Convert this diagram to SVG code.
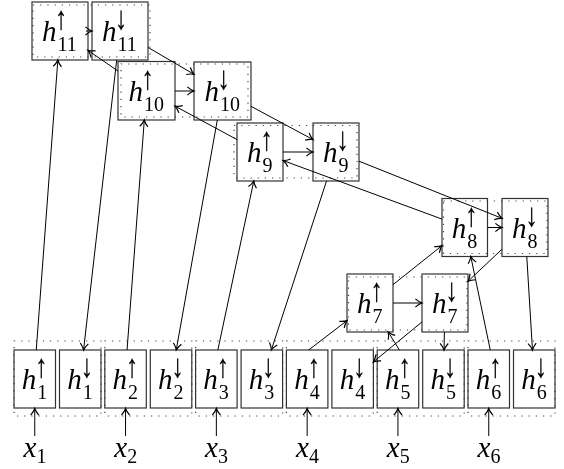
<svg xmlns="http://www.w3.org/2000/svg" width="564" height="469" viewBox="0 0 564 469">
<defs>
<style>
.box{fill:none;stroke:#333;stroke-width:1.2}
.dot{fill:none;stroke:#444;stroke-width:1.2;stroke-dasharray:1.2 6}
.e{fill:none;stroke:#000;stroke-width:1;marker-end:url(#arr)}
.lbl text{font-family:"Liberation Serif","Times New Roman",serif;fill:#000}
.lbl .m{font-style:italic;font-size:29px}
.lbl .s{font-size:20px}
.lbl .a{font-size:24px;text-anchor:middle;stroke:#000;stroke-width:0.25}
</style>
<filter id="flat" filterUnits="userSpaceOnUse" x="0" y="0" width="564" height="469">
<feOffset dx="0" dy="0"/>
</filter>
<marker id="arr" markerUnits="userSpaceOnUse" markerWidth="12" markerHeight="12" viewBox="-7 -5 9 10" refX="0" refY="0" orient="auto">
<path d="M-5.5,-3.4 C-3.5,-1.6 -1.5,-0.5 0,0 C-1.5,0.5 -3.5,1.6 -5.5,3.4" fill="none" stroke="#000" stroke-width="1"/>
</marker>
</defs>
<rect width="564" height="469" fill="#fff"/>

<g id="fits">
<rect class="dot" x="33" y="5" width="117" height="52"/>
<rect class="dot" x="121" y="64" width="127" height="53"/>
<rect class="dot" x="234" y="125.5" width="123" height="52.5"/>
<rect class="dot" x="443.5" y="201" width="103.5" height="52.5"/>
<rect class="dot" x="348.5" y="277" width="118.5" height="53"/>
<rect class="dot" x="14" y="341" width="87" height="75"/>
<rect class="dot" x="104.8" y="341" width="87" height="75"/>
<rect class="dot" x="195.6" y="341" width="87" height="75"/>
<rect class="dot" x="286.4" y="341" width="87" height="75"/>
<rect class="dot" x="377.2" y="341" width="87" height="75"/>
<rect class="dot" x="468" y="341" width="87" height="75"/>
</g>

<g class="lbl" filter="url(#flat)">
<g id="h11up"><rect class="box" x="32" y="2" width="56" height="58"/><text class="m" x="42" y="41">h</text><text class="s" x="57.5" y="51">11</text><text class="a" transform="translate(61,29) scale(1,1.35)">↑</text></g>
<g id="h11down"><rect class="box" x="92" y="2" width="56" height="58"/><text class="m" x="102" y="41">h</text><text class="s" x="117.5" y="51">11</text><text class="a" transform="translate(121,29) scale(1,1.35)">↓</text></g>
<g id="h10up"><rect class="box" x="118" y="61.5" width="57" height="58.5"/><text class="m" x="128.5" y="100.75">h</text><text class="s" x="144" y="110.75">10</text><text class="a" transform="translate(147.5,88.75) scale(1,1.35)">↑</text></g>
<g id="h10down"><rect class="box" x="194" y="62" width="57" height="58"/><text class="m" x="204.5" y="101">h</text><text class="s" x="220" y="111">10</text><text class="a" transform="translate(223.5,89) scale(1,1.35)">↓</text></g>
<g id="h9up"><rect class="box" x="237" y="123" width="46" height="58"/><text class="m" x="247" y="162">h</text><text class="s" x="262.5" y="172">9</text><text class="a" transform="translate(266.5,150) scale(1,1.35)">↑</text></g>
<g id="h9down"><rect class="box" x="313" y="123" width="46" height="58"/><text class="m" x="323" y="162">h</text><text class="s" x="338.5" y="172">9</text><text class="a" transform="translate(342.5,150) scale(1,1.35)">↓</text></g>
<g id="h8up"><rect class="box" x="442" y="198.5" width="45.5" height="58"/><text class="m" x="451.75" y="237.5">h</text><text class="s" x="467.25" y="247.5">8</text><text class="a" transform="translate(471.25,225.5) scale(1,1.35)">↑</text></g>
<g id="h8down"><rect class="box" x="502" y="198.5" width="46" height="58"/><text class="m" x="512" y="237.5">h</text><text class="s" x="527.5" y="247.5">8</text><text class="a" transform="translate(531.5,225.5) scale(1,1.35)">↓</text></g>
<g id="h7up"><rect class="box" x="347" y="274" width="46" height="58"/><text class="m" x="357" y="313">h</text><text class="s" x="372.5" y="323">7</text><text class="a" transform="translate(376.5,301) scale(1,1.35)">↑</text></g>
<g id="h7down"><rect class="box" x="422" y="274" width="46" height="58"/><text class="m" x="432" y="313">h</text><text class="s" x="447.5" y="323">7</text><text class="a" transform="translate(451.5,301) scale(1,1.35)">↓</text></g>

<g id="h1up"><rect class="box" x="14" y="350" width="41.5" height="58"/><text class="m" x="21.75" y="389">h</text><text class="s" x="37.25" y="399">1</text><text class="a" transform="translate(41.25,377) scale(1,1.35)">↑</text></g>
<g id="h1down"><rect class="box" x="59.5" y="350" width="41.5" height="58"/><text class="m" x="67.25" y="389">h</text><text class="s" x="82.75" y="399">1</text><text class="a" transform="translate(86.75,377) scale(1,1.35)">↓</text></g>
<g id="h2up"><rect class="box" x="104.8" y="350" width="41.5" height="58"/><text class="m" x="112.55" y="389">h</text><text class="s" x="128.05" y="399">2</text><text class="a" transform="translate(132.05,377) scale(1,1.35)">↑</text></g>
<g id="h2down"><rect class="box" x="150.3" y="350" width="41.5" height="58"/><text class="m" x="158.05" y="389">h</text><text class="s" x="173.55" y="399">2</text><text class="a" transform="translate(177.55,377) scale(1,1.35)">↓</text></g>
<g id="h3up"><rect class="box" x="195.6" y="350" width="41.5" height="58"/><text class="m" x="203.35" y="389">h</text><text class="s" x="218.85" y="399">3</text><text class="a" transform="translate(222.85,377) scale(1,1.35)">↑</text></g>
<g id="h3down"><rect class="box" x="241.1" y="350" width="41.5" height="58"/><text class="m" x="248.85" y="389">h</text><text class="s" x="264.35" y="399">3</text><text class="a" transform="translate(268.35,377) scale(1,1.35)">↓</text></g>
<g id="h4up"><rect class="box" x="286.4" y="350" width="41.5" height="58"/><text class="m" x="294.15" y="389">h</text><text class="s" x="309.65" y="399">4</text><text class="a" transform="translate(313.65,377) scale(1,1.35)">↑</text></g>
<g id="h4down"><rect class="box" x="331.9" y="350" width="41.5" height="58"/><text class="m" x="339.65" y="389">h</text><text class="s" x="355.15" y="399">4</text><text class="a" transform="translate(359.15,377) scale(1,1.35)">↓</text></g>
<g id="h5up"><rect class="box" x="377.2" y="350" width="41.5" height="58"/><text class="m" x="384.95" y="389">h</text><text class="s" x="400.45" y="399">5</text><text class="a" transform="translate(404.45,377) scale(1,1.35)">↑</text></g>
<g id="h5down"><rect class="box" x="422.7" y="350" width="41.5" height="58"/><text class="m" x="430.45" y="389">h</text><text class="s" x="445.95" y="399">5</text><text class="a" transform="translate(449.95,377) scale(1,1.35)">↓</text></g>
<g id="h6up"><rect class="box" x="468" y="350" width="41.5" height="58"/><text class="m" x="475.75" y="389">h</text><text class="s" x="491.25" y="399">6</text><text class="a" transform="translate(495.25,377) scale(1,1.35)">↑</text></g>
<g id="h6down"><rect class="box" x="513.5" y="350" width="41.5" height="58"/><text class="m" x="521.25" y="389">h</text><text class="s" x="536.75" y="399">6</text><text class="a" transform="translate(540.75,377) scale(1,1.35)">↓</text></g>

<g id="x1"><text class="m" x="23.5" y="457">x</text><text class="s" x="36.5" y="463">1</text></g>
<g id="x2"><text class="m" x="114.3" y="457">x</text><text class="s" x="127.3" y="463">2</text></g>
<g id="x3"><text class="m" x="205.1" y="457">x</text><text class="s" x="218.1" y="463">3</text></g>
<g id="x4"><text class="m" x="295.9" y="457">x</text><text class="s" x="308.9" y="463">4</text></g>
<g id="x5"><text class="m" x="386.7" y="457">x</text><text class="s" x="399.7" y="463">5</text></g>
<g id="x6"><text class="m" x="477.5" y="457">x</text><text class="s" x="490.5" y="463">6</text></g>
</g>

<g id="connectors">
<path class="e" d="M34.75,436 L34.75,408.5"/>
<path class="e" d="M125.55,436 L125.55,408.5"/>
<path class="e" d="M216.35,436 L216.35,408.5"/>
<path class="e" d="M307.15,436 L307.15,408.5"/>
<path class="e" d="M397.95,436 L397.95,408.5"/>
<path class="e" d="M488.75,436 L488.75,408.5"/>
<path class="e" d="M36.25,350 L57.85,60"/>
<path class="e" d="M127.05,350 L144.3,120"/>
<path class="e" d="M217.85,350 L253.8,181"/>
<path class="e" d="M308.65,350 L347,320.6"/>
<path class="e" d="M399.45,350 L388.2,332"/>
<path class="e" d="M490.25,350 L470.8,256.5"/>
<path class="e" d="M116.69,60 L83.56,350"/>
<path class="e" d="M217.32,120 L176.23,350"/>
<path class="e" d="M326.53,181 L271.33,350"/>
<path class="e" d="M526.77,256.5 L532.48,350"/>
<path class="e" d="M422,321.9 L373.4,361.9"/>
<path class="e" d="M444.4,332 L444.04,350"/>
<path class="e" d="M502,249.2 L468,281.3"/>
<path class="e" d="M148,47.4 L194,74.3"/>
<path class="e" d="M251,106.3 L313,139.6"/>
<path class="e" d="M359,161.2 L502,218.3"/>
<path class="e" d="M118,71.06 L88,50.35"/>
<path class="e" d="M237,139.6 L175,106.1"/>
<path class="e" d="M442,219.1 L283,160.5"/>
<path class="e" d="M393,284.7 L442,245.6"/>
<path class="e" d="M86,31 L92,31"/>
<path class="e" d="M175,91 L194,91"/>
<path class="e" d="M283,152 L313,152"/>
<path class="e" d="M487.5,227.5 L502,227.5"/>
<path class="e" d="M393,303 L422,303"/>
</g>
</svg>
